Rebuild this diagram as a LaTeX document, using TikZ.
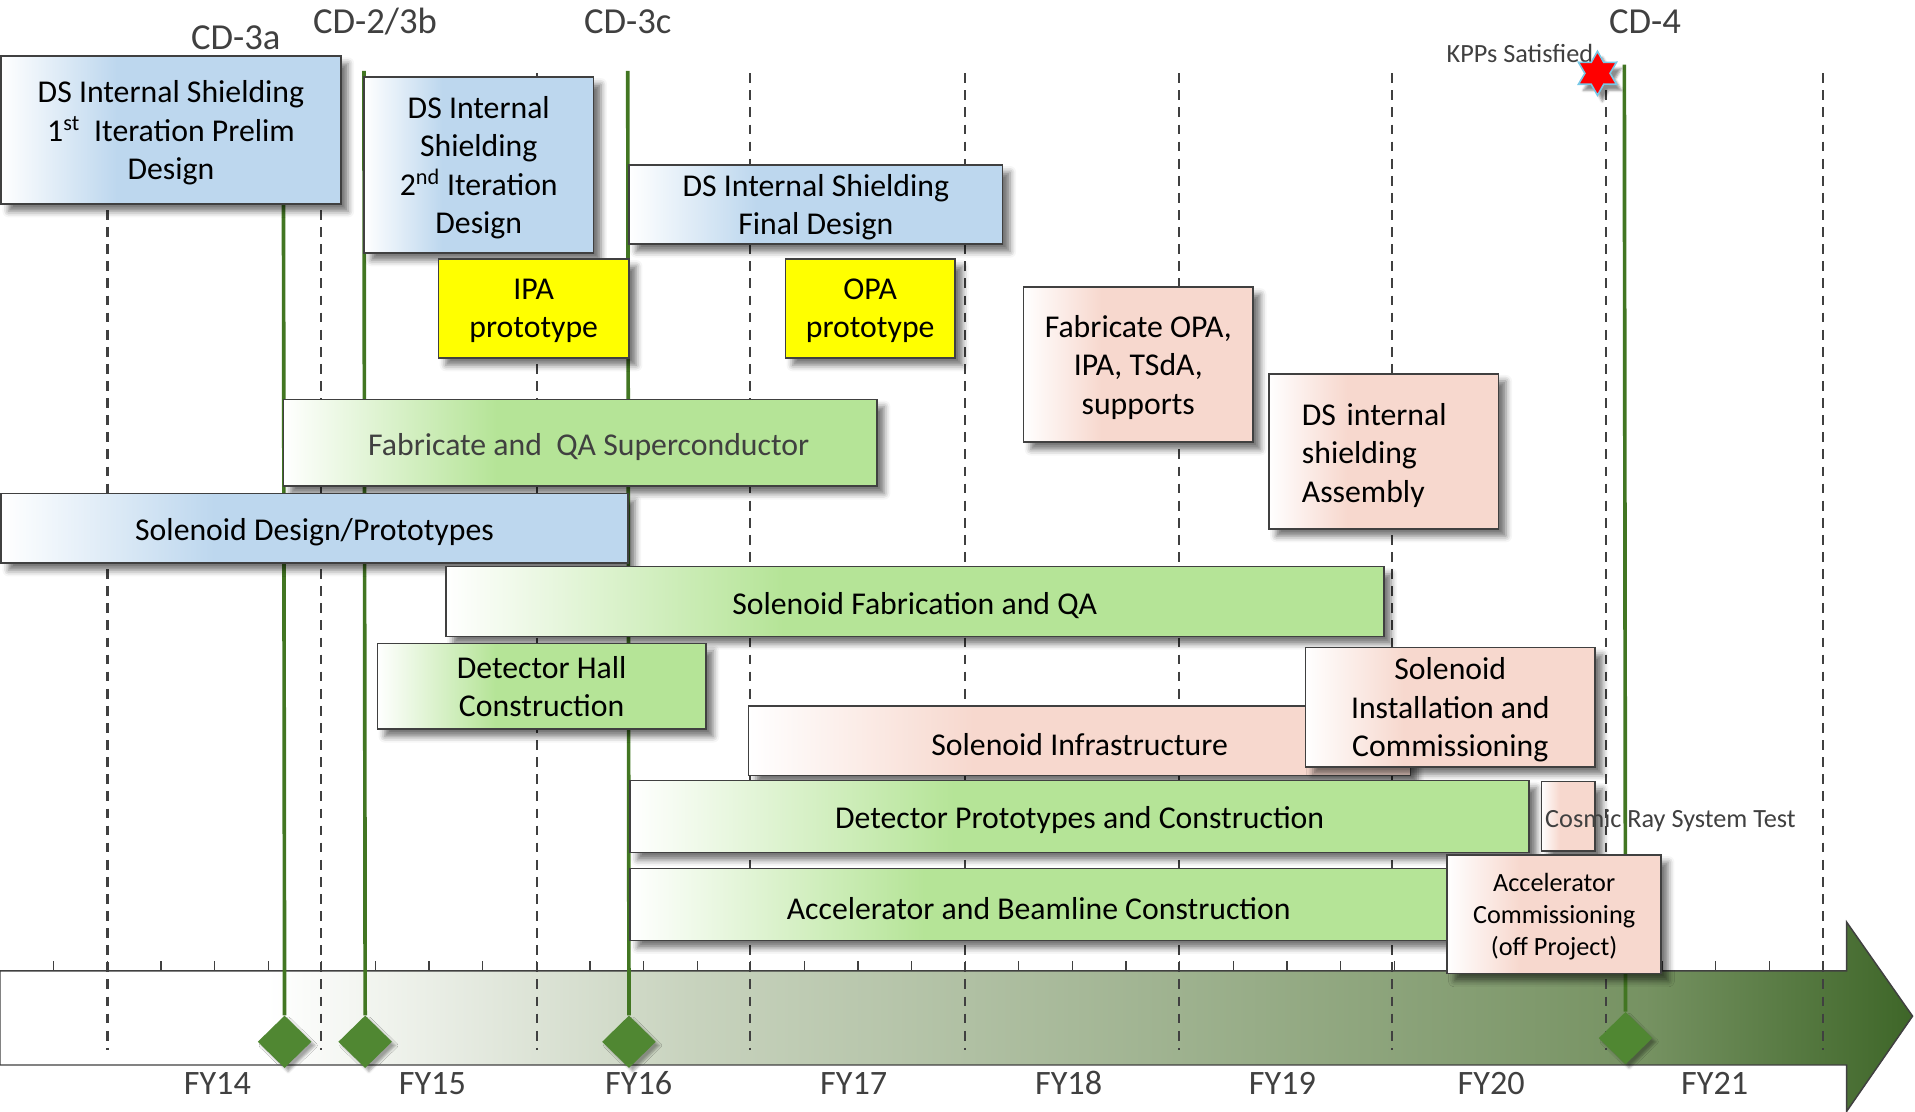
\documentclass[tikz,border=0pt]{standalone}
\usepackage{fontspec}
\setmainfont{Carlito}
\usetikzlibrary{shapes.geometric,shadows.blur}

\definecolor{boxblue}{RGB}{189,215,238}
\definecolor{boxgreen}{RGB}{181,228,151}
\definecolor{boxpink}{RGB}{247,216,206}
\definecolor{boxyellow}{RGB}{255,255,0}
\definecolor{boxline}{RGB}{64,64,64}
\definecolor{labelgray}{RGB}{64,64,64}
\definecolor{msgreen}{RGB}{66,118,34}
\definecolor{diagreen}{RGB}{80,135,50}
\definecolor{axmid}{RGB}{200,211,190}
\definecolor{axdark}{RGB}{118,146,98}
\definecolor{axend}{RGB}{62,102,40}
\definecolor{starrim}{RGB}{120,200,230}

\pgfdeclarehorizontalshading{blueshade}{100bp}{color(0bp)=(white); color(25bp)=(white); color(42bp)=(boxblue); color(100bp)=(boxblue)}
\pgfdeclarehorizontalshading{greenshade}{100bp}{color(0bp)=(white); color(25bp)=(white); color(43bp)=(boxgreen); color(100bp)=(boxgreen)}
\pgfdeclarehorizontalshading{pinkshade}{100bp}{color(0bp)=(white); color(25bp)=(white); color(42bp)=(boxpink); color(100bp)=(boxpink)}
\pgfdeclarehorizontalshading{axisshade}{100bp}{color(0bp)=(white); color(32bp)=(white); color(43bp)=(axmid); color(68bp)=(axdark); color(75bp)=(axend); color(100bp)=(axend)}

\begin{document}
\begin{tikzpicture}[
  x=1pt, y=-1pt,
  task/.style={rectangle, draw=boxline, line width=1.3pt, inner sep=0pt,
    align=center, font=\fontsize{26}{31.5}\selectfont,
    execute at begin node={\rule{0pt}{0.95em}},
    blur shadow={shadow xshift=6pt, shadow yshift=-6pt,
      shadow blur radius=5pt, shadow opacity=55}},
  multi/.style={text depth=0pt},
  size/.style 2 args={minimum width=#1, minimum height=#2},
  bluetask/.style={task, shading=blueshade},
  greentask/.style={task, shading=greenshade},
  pinktask/.style={task, shading=pinkshade},
  yellowtask/.style={task, fill=boxyellow},
  smalltext/.style={font=\fontsize{21.5}{26.3}\selectfont},
  yearline/.style={draw=labelgray, line width=1.7pt, dash pattern=on 8pt off 6pt},
  milestone/.style={draw=msgreen, line width=3pt},
  gate/.style={diamond, aspect=1, fill=diagreen, inner sep=0pt,
    minimum width=44pt, minimum height=43pt,
    blur shadow={shadow xshift=3pt, shadow yshift=-3pt, shadow opacity=35}},
  cdlabel/.style={text=labelgray, font=\fontsize{30}{36}\selectfont},
  fylabel/.style={text=labelgray, font=\fontsize{28}{34}\selectfont}
]
  \useasboundingbox (0,0) rectangle (1568,910);

  % Time axis
  \draw[boxline, line width=1.2pt, shading=axisshade]
    (0,795) -- (1512,795) -- (1512,755) -- (1566,832) -- (1512,910)
    -- (1512,872) -- (0,872) -- cycle;
  \foreach \i in {0,...,33}
    \draw[boxline, line width=1pt] (44+43.9*\i,787) -- (44+43.9*\i,795);

  % Fiscal years
  \foreach \x in {88,263,440,614,790,965,1140,1315,1493}
    \draw[yearline] (\x,60) -- (\x,860);
  \foreach \x/\fy in {178/FY14,354/FY15,523/FY16,699/FY17,875/FY18,1050/FY19,1221/FY20,1404/FY21}
    \node[fylabel] (\fy) at (\x,887) {\fy};

  % Milestones
  \node[cdlabel] (cd3a) at (193,31) {CD-3a};
  \node[cdlabel] (cd3b) at (307,18) {CD-2/3b};
  \node[cdlabel] (cd3c) at (514,18) {CD-3c};
  \node[cdlabel] (cd4) at (1347,18) {CD-4};

  \coordinate (cd3a top) at (232,60);
  \coordinate (cd3b top) at (298,58);
  \coordinate (cd3c top) at (514,58);
  \coordinate (cd4 top) at (1330,53);

  \node[gate] (cd3a gate) at (233,853) {};
  \node[gate] (cd3b gate) at (299,853) {};
  \node[gate] (cd3c gate) at (515,853) {};
  \node[gate] (cd4 gate) at (1331,850) {};

  \draw[milestone] (cd3a top) -- (cd3a gate.north);
  \draw[milestone] (cd3b top) -- (cd3b gate.north);
  \draw[milestone] (cd3c top) -- (cd3c gate.north);
  \draw[milestone] (cd4 top) -- (cd4 gate.north);

  % Shielding
  \node[bluetask, multi, size={278pt}{121pt}] (prelim) at (140,106.5)
    {DS Internal Shielding\\1\textsuperscript{st}\ \ Iteration Prelim\\Design};
  \node[bluetask, multi, size={188pt}{144pt}] (second) at (392,135)
    {DS Internal\\Shielding\\2\textsuperscript{nd} Iteration\\Design};
  \node[bluetask, multi, size={306pt}{65pt}] (final) at (668,167.5)
    {DS Internal Shielding\\Final Design};
  \node[yellowtask, multi, size={156pt}{81pt}] (ipa) at (437,252.5) {IPA\\prototype};
  \node[yellowtask, multi, size={139pt}{81pt}] (opa) at (712.5,252.5) {OPA\\prototype};
  \node[pinktask, multi, size={188pt}{127pt}] (fabopa) at (932,298.5)
    {Fabricate OPA,\\IPA, TSdA,\\supports};
  \node[pinktask, size={188pt}{127pt}, align=left, text width=134pt] (assembly) at (1133,369.5)
    {DS internal\\shielding\\Assembly};

  % Solenoids
  \node[greentask, size={486pt}{71pt}, text=labelgray] (superc) at (475,362.5)
    {\hspace*{14pt}Fabricate and\ \ QA Superconductor};
  \node[bluetask, size={513pt}{57pt}] (soldesign) at (257.5,432.5)
    {Solenoid Design/Prototypes};
  \node[greentask, size={768pt}{57pt}] (solfab) at (749,492.5)
    {Solenoid Fabrication and QA};
  \node[greentask, multi, size={269pt}{70pt}] (hall) at (443.5,562)
    {Detector Hall\\Construction};
  \node[pinktask, size={542pt}{57pt}] (infra) at (884,606.5)
    {Solenoid Infrastructure};
  \node[pinktask, multi, size={237pt}{98pt}] (install) at (1187.5,579)
    {Solenoid\\Installation and\\Commissioning};

  % Detector and accelerator
  \node[greentask, size={736pt}{59pt}] (detector) at (884,668.5)
    {Detector Prototypes and Construction};
  \node[pinktask, size={44pt}{57pt}] (cosmic) at (1284,668.5) {};
  \node[smalltext, text=labelgray, anchor=west, inner sep=0pt] (cosmic text) at (1265,672)
    {Cosmic Ray System Test};
  \node[greentask, size={669pt}{59pt}] (beamline) at (850.5,740.5)
    {Accelerator and Beamline Construction};
  \node[pinktask, multi, smalltext, size={175pt}{97pt}] (acccomm) at (1272.5,748.5)
    {Accelerator\\Commissioning\\(off Project)};

  % KPPs
  \node[smalltext, text=labelgray, inner sep=0pt] (kpp) at (1244.5,44) {KPPs Satisfied};
  \node[star, star points=6, star point ratio=1.75, fill=red, draw=starrim,
    line width=1.3pt, minimum size=36pt, inner sep=0pt,
    blur shadow={shadow xshift=4pt, shadow yshift=-5pt, shadow opacity=45}] (kpp star) at (1308,60) {};
\end{tikzpicture}
\end{document}
